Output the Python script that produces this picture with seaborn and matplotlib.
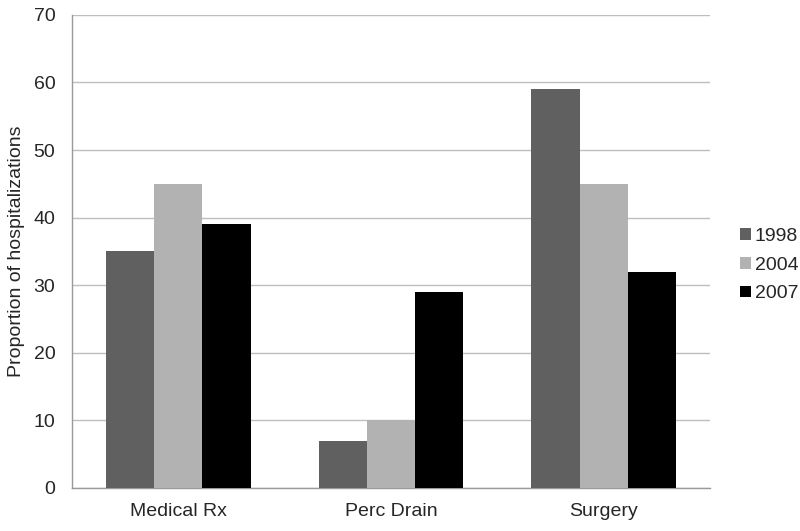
import pandas as pd
import numpy as np
import matplotlib
matplotlib.use("Agg")
import matplotlib.pyplot as plt
import matplotlib.ticker as mticker
import seaborn as sns

# ── Data ───────────────────────────────────────────────────────────────────
categories = ["Medical Rx", "Perc Drain", "Surgery"]
years = ["1998", "2004", "2007"]
vals_1998 = [35, 7, 59]
vals_2004 = [45, 10, 45]
vals_2007 = [39, 29, 32]

COLORS = ["#606060", "#B2B2B2", "#000000"]
GRID = "#BEBEBE"

df = pd.DataFrame({
    "category": categories * 3,
    "year": [y for y in years for _ in categories],
    "value": vals_1998 + vals_2004 + vals_2007,
})

sns.set_style("white")
plt.rcParams["font.family"] = ["Liberation Sans", "DejaVu Sans"]

fig = plt.figure(figsize=(8, 5.31), dpi=100)
ax = fig.add_axes([0.09, 0.081, 0.7975, 0.891])

sns.barplot(data=df, x="category", y="value", hue="year", order=categories,
            hue_order=years, palette=COLORS, width=0.68, saturation=1,
            linewidth=0, ax=ax, zorder=3)

ax.set_ylim(0, 70)
ax.set_xlim(-0.5, len(categories) - 0.5)
ax.yaxis.set_major_locator(mticker.MultipleLocator(10))
ax.grid(axis="y", color=GRID, linewidth=1, zorder=0)
ax.set_axisbelow(True)

# category separators as ticks
ax.set_xticks(np.arange(-0.5, len(categories)), minor=True)
ax.tick_params(axis="x", which="major", length=0, labelsize=14, pad=11)
ax.tick_params(axis="x", which="minor", length=7, color="#999999", width=1)
ax.tick_params(axis="y", length=7, color="#999999", width=1, labelsize=14,
               pad=5)

for s in ["top", "right"]:
    ax.spines[s].set_visible(False)
for s in ["left", "bottom"]:
    ax.spines[s].set_color("#999999")
    ax.spines[s].set_linewidth(1)

ax.set_xlabel("")
ax.set_ylabel("Proportion of hospitalizations", fontsize=14, labelpad=6)

ax.legend(loc="center left", bbox_to_anchor=(1.02, 0.471), frameon=False,
          fontsize=14, handlelength=0.55, handleheight=0.55, handletextpad=0.2,
          labelspacing=0.6)

fig.savefig("out.png", dpi=100)
